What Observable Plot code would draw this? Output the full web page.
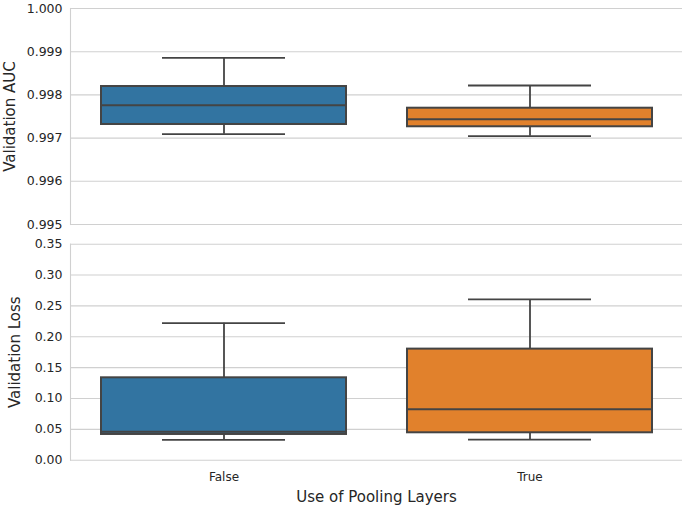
<!DOCTYPE html>
<html>
<head>
<meta charset="utf-8">
<script src="https://cdn.jsdelivr.net/npm/d3@7"></script>
<script src="https://cdn.jsdelivr.net/npm/@observablehq/plot@0.6"></script>
<style>
  body { margin: 0; background: #fff; }
  #chart { position: relative; width: 685px; height: 506px; }
  #chart svg { position: absolute; left: 0; display: block; font-family: "DejaVu Sans", sans-serif; }
</style>
</head>
<body>
<div id="chart"></div>
<script>
const categories = ["False", "True"];
const colors = ["#3274a1", "#e1812c"];

const aucLow = [0.99709, 0.997044];
const aucQ1 = [0.997315, 0.997262];
const aucMedian = [0.997762, 0.997438];
const aucQ3 = [0.998194, 0.997692];
const aucHigh = [0.998859, 0.998218];
const aucTicks = [0.995, 0.996, 0.997, 0.998, 0.999, 1.000];

const lossLow = [0.033, 0.0335];
const lossQ1 = [0.0417, 0.0444];
const lossMedian = [0.046, 0.0827];
const lossQ3 = [0.1335, 0.180];
const lossHigh = [0.222, 0.2605];
const lossTicks = [0, 0.05, 0.10, 0.15, 0.20, 0.25, 0.30, 0.35];

const edge = "#444444";
const textColor = "#262626";

function panel({low, q1, med, q3, high, ticks, fmt, label, labelDx, height, marginTop, marginBottom, showX}) {
  const data = categories.map((c, i) => ({cat: c, low: low[i], q1: q1[i], med: med[i], q3: q3[i], high: high[i]}));
  const marks = [
    Plot.gridY(ticks, {stroke: "#d0d0d0", strokeOpacity: 1, strokeWidth: 1.1}),
    Plot.frame({anchor: "left", stroke: "#d0d0d0", strokeWidth: 1.1}),
    Plot.axisY(ticks, {tickSize: 0, tickPadding: 8, tickFormat: fmt, fontSize: 12.5, color: textColor, label: null}),
    Plot.ruleX(data, {x: "cat", y1: "q3", y2: "high", stroke: edge, strokeWidth: 1.8}),
    Plot.ruleX(data, {x: "cat", y1: "low", y2: "q1", stroke: edge, strokeWidth: 1.8}),
    Plot.tickY(data, {x: "cat", y: "high", stroke: edge, strokeWidth: 1.8, insetLeft: 61, insetRight: 61}),
    Plot.tickY(data, {x: "cat", y: "low", stroke: edge, strokeWidth: 1.8, insetLeft: 61, insetRight: 61}),
    Plot.barY(data, {x: "cat", y1: "q1", y2: "q3", fill: "cat", stroke: edge, strokeWidth: 2}),
    Plot.tickY(data, {x: "cat", y: "med", stroke: edge, strokeWidth: 2}),
    Plot.text([label], {frameAnchor: "left", textAnchor: "middle", lineAnchor: "middle", rotate: -90, dx: labelDx, fontSize: 15, fill: textColor})
  ];
  if (showX) {
    marks.push(Plot.axisX({tickSize: 0, tickPadding: 12, fontSize: 12, color: textColor, label: null}));
    marks.push(Plot.text(["Use of Pooling Layers"], {frameAnchor: "bottom", lineAnchor: "middle", dy: 37, fontSize: 15, fill: textColor}));
  }
  return Plot.plot({
    width: 685,
    height,
    marginLeft: 70,
    marginRight: 3,
    marginTop,
    marginBottom,
    x: {type: "band", domain: categories, paddingInner: 0.2, paddingOuter: 0.1, axis: showX ? undefined : null},
    y: {domain: [ticks[0], ticks[ticks.length - 1]]},
    color: {domain: categories, range: colors},
    marks
  });
}

const topPanel = panel({
  low: aucLow, q1: aucQ1, med: aucMedian, q3: aucQ3, high: aucHigh,
  ticks: aucTicks, fmt: d3.format(".3f"), label: "Validation AUC", labelDx: -60,
  height: 232, marginTop: 8, marginBottom: 8, showX: false
});
topPanel.style.top = "0px";

const bottomPanel = panel({
  low: lossLow, q1: lossQ1, med: lossMedian, q3: lossQ3, high: lossHigh,
  ticks: lossTicks, fmt: d3.format(".2f"), label: "Validation Loss", labelDx: -55.5,
  height: 274, marginTop: 11.7, marginBottom: 46.3, showX: true
});
bottomPanel.style.top = "232px";

const chart = document.getElementById("chart");
chart.appendChild(topPanel);
chart.appendChild(bottomPanel);
</script>
</body>
</html>
